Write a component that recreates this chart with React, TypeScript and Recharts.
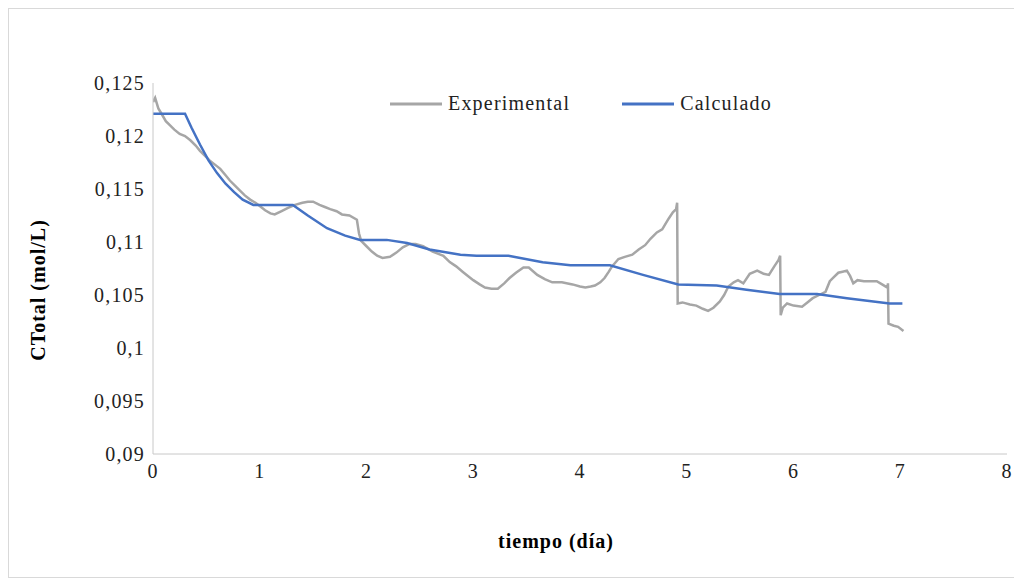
import React from 'react';
import { LineChart, Line, XAxis, YAxis, Legend } from 'recharts';

// Experimental series
const expDays = [
  0.0, 0.02, 0.05, 0.08, 0.12, 0.16, 0.2, 0.25, 0.3, 0.35, 0.4, 0.44, 0.49, 0.53, 0.58, 0.63, 0.68, 0.72,
  0.77, 0.81, 0.86, 0.91, 0.96, 1.0, 1.05, 1.1, 1.14, 1.2, 1.26, 1.33, 1.4, 1.45, 1.5, 1.56, 1.61, 1.66,
  1.72, 1.77, 1.84, 1.91, 1.93, 1.95, 2.0, 2.05, 2.1, 2.15, 2.22, 2.28, 2.34, 2.4, 2.46, 2.53, 2.62, 2.72,
  2.78, 2.84, 2.9, 2.95, 3.0, 3.06, 3.11, 3.17, 3.23, 3.29, 3.34, 3.4, 3.47, 3.52, 3.6, 3.67, 3.74, 3.83,
  3.93, 4.0, 4.05, 4.1, 4.14, 4.19, 4.23, 4.27, 4.3, 4.36, 4.42, 4.49, 4.55, 4.61, 4.66, 4.72, 4.77, 4.83,
  4.87, 4.9, 4.91, 4.915, 4.96, 5.03, 5.09, 5.15, 5.2, 5.25, 5.31, 5.35, 5.39, 5.44, 5.48, 5.53, 5.59,
  5.66, 5.72, 5.77, 5.82, 5.86, 5.875, 5.88, 5.9, 5.94, 6.0, 6.08, 6.13, 6.18, 6.24, 6.3, 6.34, 6.38,
  6.42, 6.46, 6.5, 6.53, 6.56, 6.6, 6.66, 6.72, 6.78, 6.83, 6.88, 6.885, 6.89, 6.94, 6.98, 7.03,
];
const expValues = [
  0.1232, 0.1236, 0.1226, 0.1221, 0.1214, 0.121, 0.1206, 0.1202, 0.12, 0.1196, 0.1191, 0.1186, 0.1181,
  0.1177, 0.1173, 0.1169, 0.1163, 0.1158, 0.1153, 0.1149, 0.1144, 0.114, 0.1137, 0.1134, 0.113, 0.1127,
  0.1126, 0.1129, 0.1132, 0.1135, 0.1137, 0.1138, 0.1138, 0.1135, 0.1133, 0.1131, 0.1129, 0.1126, 0.1125,
  0.1121, 0.1108, 0.1101, 0.1096, 0.1091, 0.1087, 0.1085, 0.1086, 0.109, 0.1095, 0.1098, 0.1098, 0.1096,
  0.1091, 0.1087, 0.1081, 0.1077, 0.1072, 0.1068, 0.1064, 0.106, 0.1057, 0.1056, 0.1056, 0.1061, 0.1066,
  0.1071, 0.1076, 0.1076, 0.1069, 0.1065, 0.1062, 0.1062, 0.106, 0.1058, 0.1057, 0.1058, 0.1059, 0.1062,
  0.1066, 0.1072, 0.1077, 0.1084, 0.1086, 0.1088, 0.1093, 0.1097, 0.1103, 0.1109, 0.1112, 0.1122, 0.1128,
  0.1131, 0.1137, 0.1042, 0.1043, 0.1041, 0.104, 0.1037, 0.1035, 0.1038, 0.1044, 0.105, 0.1058, 0.1062,
  0.1064, 0.1061, 0.107, 0.1073, 0.107, 0.1069, 0.1077, 0.1083, 0.1087, 0.1031, 0.1038, 0.1042, 0.104,
  0.1039, 0.1043, 0.1047, 0.105, 0.1053, 0.1063, 0.1067, 0.1071, 0.1072, 0.1073, 0.1068, 0.1061, 0.1064,
  0.1063, 0.1063, 0.1063, 0.106, 0.1057, 0.1061, 0.1023, 0.1021, 0.102, 0.1016,
];

// Calculado series
const calcDays = [
  0, 0.3, 0.36, 0.44, 0.52, 0.6, 0.68, 0.76, 0.84, 0.94, 1.31, 1.45, 1.63, 1.8, 1.94, 2.19, 2.38, 2.59,
  2.88, 3.03, 3.33, 3.65, 3.91, 4.28, 4.59, 4.92, 5.28, 5.56, 5.87, 6.22, 6.5, 6.9, 7.02,
];
const calcValues = [
  0.1221, 0.1221, 0.1208, 0.1192, 0.1177, 0.1165, 0.1155, 0.1147, 0.114, 0.1135, 0.1135, 0.1125, 0.1113,
  0.1106, 0.1102, 0.1102, 0.1099, 0.1093, 0.1088, 0.1087, 0.1087, 0.1081, 0.1078, 0.1078, 0.1069, 0.106,
  0.1059, 0.1055, 0.1051, 0.1051, 0.1047, 0.1042, 0.1042,
];

const xTicks = [0, 1, 2, 3, 4, 5, 6, 7, 8];
const yTicks = [0.09, 0.095, 0.1, 0.105, 0.11, 0.115, 0.12, 0.125];

const experimental = expDays.map((x, i) => ({ x, y: expValues[i] }));
const calculado = calcDays.map((x, i) => ({ x, y: calcValues[i] }));

const GREY = '#a6a6a6';
const BLUE = '#4472c4';
const FONT = "'Liberation Serif', 'DejaVu Serif', serif";

const tickStyle = { fill: '#222', fontSize: 20, fontFamily: FONT, letterSpacing: 1.2 };

const LegendContent = () => (
  <div style={{ display: 'flex', alignItems: 'center', fontFamily: FONT, fontSize: 20, letterSpacing: 1.2, color: '#222' }}>
    <svg width={52} height={6}>
      <line x1={0} y1={3} x2={52} y2={3} stroke={GREY} strokeWidth={3} />
    </svg>
    <span style={{ marginLeft: 6 }}>Experimental</span>
    <svg width={52} height={6} style={{ marginLeft: 52 }}>
      <line x1={0} y1={3} x2={52} y2={3} stroke={BLUE} strokeWidth={3} />
    </svg>
    <span style={{ marginLeft: 6 }}>Calculado</span>
  </div>
);

export default function App() {
  return (
    <div style={{ position: 'relative', width: 1012, height: 568, border: '1px solid #d9d9d9', background: '#fff', fontFamily: FONT }}>
      <LineChart width={1012} height={568} margin={{ top: 74, right: 14, left: 84, bottom: 70 }}>
        <XAxis
          type="number"
          dataKey="x"
          domain={[0, 8]}
          ticks={xTicks}
          allowDataOverflow
          height={30}
          stroke="#c8c8c8"
          tickLine={false}
          tickMargin={4}
          tick={tickStyle}
        />
        <YAxis
          type="number"
          dataKey="y"
          domain={[0.09, 0.125]}
          ticks={yTicks}
          allowDataOverflow
          width={60}
          stroke="#c8c8c8"
          tickLine={false}
          tickMargin={2}
          tick={tickStyle}
          tickFormatter={(v: number) => String(v).replace('.', ',')}
        />
        <Legend
          content={<LegendContent />}
          wrapperStyle={{ top: 83, left: 381, width: 'auto' }}
        />
        <Line
          data={experimental}
          dataKey="y"
          name="Experimental"
          type="linear"
          stroke={GREY}
          strokeWidth={2.5}
          dot={false}
          isAnimationActive={false}
        />
        <Line
          data={calculado}
          dataKey="y"
          name="Calculado"
          type="linear"
          stroke={BLUE}
          strokeWidth={2.5}
          dot={false}
          isAnimationActive={false}
        />
      </LineChart>
      <div
        style={{
          position: 'absolute',
          left: 29,
          top: 281,
          transform: 'translate(-50%, -50%) rotate(-90deg)',
          whiteSpace: 'nowrap',
          fontWeight: 'bold',
          fontSize: 20,
          letterSpacing: 1,
          color: '#000',
        }}
      >
        CTotal (mol/L)
      </div>
      <div
        style={{
          position: 'absolute',
          left: 547,
          top: 532,
          transform: 'translate(-50%, -50%)',
          whiteSpace: 'nowrap',
          fontWeight: 'bold',
          fontSize: 20,
          letterSpacing: 1,
          color: '#000',
        }}
      >
        tiempo (día)
      </div>
    </div>
  );
}
